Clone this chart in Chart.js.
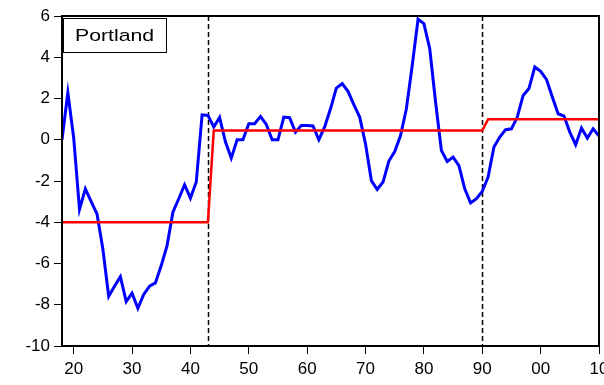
<!DOCTYPE html>
<html>
<head>
<meta charset="utf-8">
<script src="https://cdn.jsdelivr.net/npm/chart.js@4"></script>
<style>
  html, body { margin: 0; background: #fff; }
  #wrap { width: 604px; height: 385px; }
</style>
</head>
<body>
<div id="wrap"><canvas id="chart"></canvas></div>
<script>
var years = [
  1918, 1919, 1920, 1921, 1922, 1923, 1924, 1925, 1926, 1927,
  1928, 1929, 1930, 1931, 1932, 1933, 1934, 1935, 1936, 1937,
  1938, 1939, 1940, 1941, 1942, 1943, 1944, 1945, 1946, 1947,
  1948, 1949, 1950, 1951, 1952, 1953, 1954, 1955, 1956, 1957,
  1958, 1959, 1960, 1961, 1962, 1963, 1964, 1965, 1966, 1967,
  1968, 1969, 1970, 1971, 1972, 1973, 1974, 1975, 1976, 1977,
  1978, 1979, 1980, 1981, 1982, 1983, 1984, 1985, 1986, 1987,
  1988, 1989, 1990, 1991, 1992, 1993, 1994, 1995, 1996, 1997,
  1998, 1999, 2000, 2001, 2002, 2003, 2004, 2005, 2006, 2007,
  2008, 2009, 2010
];

var portland = [
  0.0, 2.28, 0.1, -3.38, -2.38, -3.0, -3.6, -5.3, -7.59, -7.1,
  -6.64, -7.85, -7.44, -8.17, -7.5, -7.1, -6.94, -6.1, -5.13, -3.51,
  -2.86, -2.18, -2.83, -2.05, 1.21, 1.18, 0.62, 1.08, -0.1, -0.89,
  0.0, 0.0, 0.78, 0.78, 1.13, 0.74, 0.0, 0.0, 1.1, 1.07,
  0.37, 0.69, 0.69, 0.67, 0.0, 0.62, 1.5, 2.5, 2.72, 2.35,
  1.7, 1.1, -0.2, -1.98, -2.41, -2.05, -1.03, -0.57, 0.2, 1.5,
  3.6, 5.84, 5.63, 4.42, 1.83, -0.52, -1.05, -0.84, -1.25, -2.38,
  -3.06, -2.86, -2.5, -1.81, -0.35, 0.13, 0.49, 0.53, 1.1, 2.15,
  2.48, 3.53, 3.32, 2.93, 2.07, 1.26, 1.15, 0.37, -0.24, 0.57,
  0.08, 0.53, 0.18
];

// regime means between the break years
var regimeStart = [1918, 1944, 1991];
var regimeEnd = [1943, 1990, 2010];
var regimeMean = [-4.0, 0.45, 1.0];
var breakYears = [1943, 1990];

var xTickValues = [1920, 1930, 1940, 1950, 1960, 1970, 1980, 1990, 2000, 2010];
var xTickLabels = ['20', '30', '40', '50', '60', '70', '80', '90', '00', '10'];

var seriesName = 'Portland';

function regimeAt(yr) {
  for (var i = 0; i < regimeStart.length; i++) {
    if (yr >= regimeStart[i] && yr <= regimeEnd[i]) return regimeMean[i];
  }
  return null;
}

var bluePts = years.map(function (yr, i) { return { x: yr, y: portland[i] }; });
var redPts = years.map(function (yr) { return { x: yr, y: regimeAt(yr) }; });

var FONT = "'Liberation Sans', Arial, sans-serif";

var framePlugin = {
  id: 'frame',
  beforeDatasetsDraw: function (chart) {
    var ctx = chart.ctx, area = chart.chartArea, xs = chart.scales.x;
    ctx.save();
    ctx.strokeStyle = '#000';
    ctx.lineWidth = 1.5;
    ctx.setLineDash([5, 3]);
    breakYears.forEach(function (b) {
      var px = Math.round(xs.getPixelForValue(b)) + 0.5;
      ctx.beginPath();
      ctx.moveTo(px, area.top);
      ctx.lineTo(px, area.bottom);
      ctx.stroke();
    });
    ctx.restore();
  },
  afterDraw: function (chart) {
    var ctx = chart.ctx, area = chart.chartArea;
    ctx.save();
    ctx.strokeStyle = '#000';
    ctx.lineWidth = 2;
    ctx.strokeRect(area.left, area.top, area.right - area.left, area.bottom - area.top);

    // series label box
    var bx = area.left + 1, by = area.top + 2, bw = 103, bh = 34;
    ctx.fillStyle = '#fff';
    ctx.fillRect(bx, by, bw, bh);
    ctx.lineWidth = 1;
    ctx.strokeRect(bx + 0.5, by + 0.5, bw, bh);
    ctx.fillStyle = '#000';
    ctx.font = '17px ' + FONT;
    ctx.textBaseline = 'middle';
    ctx.translate(bx + 12, by + bh / 2 + 1);
    ctx.scale(1.25, 1);
    ctx.fillText(seriesName, 0, 0);
    ctx.restore();
  }
};

new Chart(document.getElementById('chart'), {
  type: 'line',
  data: {
    datasets: [{
      label: 'Regime mean',
      data: redPts,
      borderColor: '#ff0000',
      borderWidth: 2.5,
      pointRadius: 0,
      tension: 0,
      fill: false
    }, {
      label: seriesName,
      data: bluePts,
      borderColor: '#0000ff',
      borderWidth: 3,
      pointRadius: 0,
      tension: 0,
      fill: false
    }]
  },
  options: {
    responsive: true,
    maintainAspectRatio: false,
    animation: false,
    layout: { padding: { top: 16, right: 5, left: 0, bottom: 0 } },
    plugins: {
      legend: { display: false },
      tooltip: { enabled: false }
    },
    scales: {
      x: {
        type: 'linear',
        min: 1918,
        max: 2010,
        border: { display: false },
        grid: { display: true, drawOnChartArea: false, drawTicks: true, tickLength: 8, color: '#000', lineWidth: 1 },
        afterBuildTicks: function (scale) {
          scale.ticks = xTickValues.map(function (v) { return { value: v }; });
        },
        afterFit: function (scale) {
          scale.height = 39;
          scale.paddingLeft = 0;
          scale.paddingRight = 0;
        },
        ticks: {
          autoSkip: false,
          maxRotation: 0,
          padding: 5,
          color: '#000',
          font: { family: FONT, size: 17 },
          callback: function (v) {
            var i = xTickValues.indexOf(v);
            return i >= 0 ? xTickLabels[i] : '';
          }
        }
      },
      y: {
        min: -10,
        max: 6,
        border: { display: false },
        grid: { display: true, drawOnChartArea: false, drawTicks: true, tickLength: 8, color: '#000', lineWidth: 1 },
        afterFit: function (scale) {
          scale.width = 62;
          scale.paddingTop = 0;
          scale.paddingBottom = 0;
        },
        ticks: {
          stepSize: 2,
          padding: 4,
          color: '#000',
          font: { family: FONT, size: 17 }
        }
      }
    }
  },
  plugins: [framePlugin]
});
</script>
</body>
</html>
